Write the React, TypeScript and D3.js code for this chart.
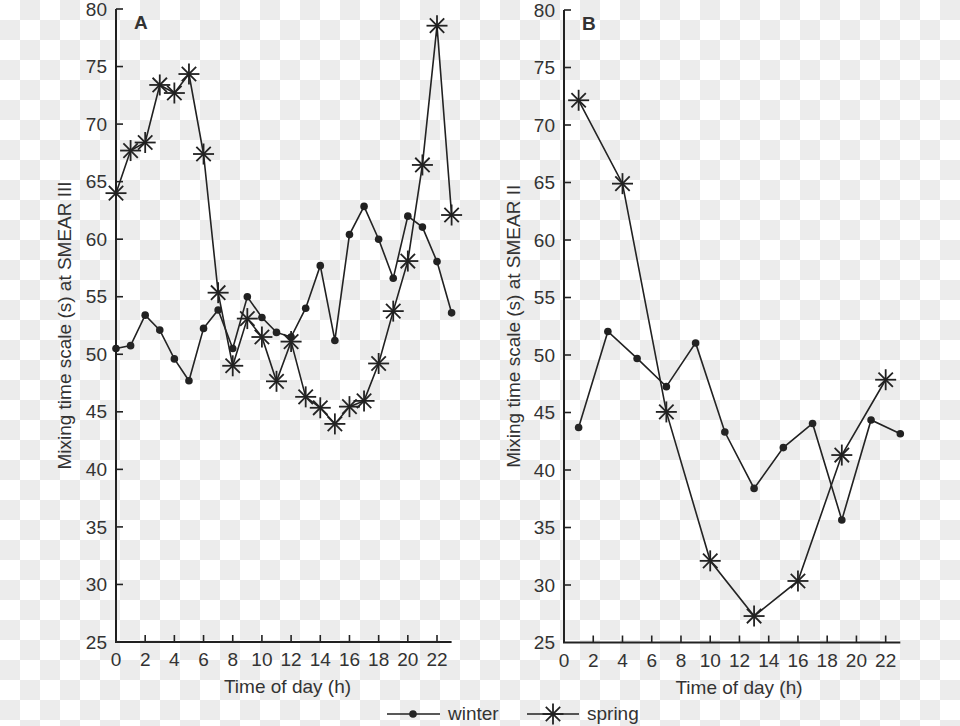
import React from "react";
import * as d3 from "d3";

const hoursA = [0, 1, 2, 3, 4, 5, 6, 7, 8, 9, 10, 11, 12, 13, 14, 15, 16, 17, 18, 19, 20, 21, 22, 23];
const winterA = [50.5, 50.75, 53.4, 52.1, 49.6, 47.7, 52.25, 53.85, 50.5, 55.0, 53.2, 51.9, 51.5, 54.0, 57.7, 51.2, 60.4, 62.85, 60.0, 56.6, 62.0, 61.05, 58.05, 53.6];
const springA = [64.0, 67.7, 68.4, 73.4, 72.7, 74.35, 67.4, 55.35, 49.0, 53.1, 51.5, 47.65, 51.1, 46.3, 45.35, 43.95, 45.45, 45.95, 49.2, 53.75, 58.1, 66.45, 78.55, 62.1];

const hoursBWinter = [1, 3, 5, 7, 9, 11, 13, 15, 17, 19, 21, 23];
const winterB = [43.7, 52.05, 49.7, 47.25, 51.05, 43.3, 38.4, 41.95, 44.05, 35.65, 44.35, 43.15];
const hoursBSpring = [1, 4, 7, 10, 13, 16, 19, 22];
const springB = [72.15, 64.9, 45.05, 32.1, 27.3, 30.35, 41.3, 47.85];

const xTicks = [0, 2, 4, 6, 8, 10, 12, 14, 16, 18, 20, 22];
const yTicks = [25, 30, 35, 40, 45, 50, 55, 60, 65, 70, 75, 80];
const seriesNames = ["winter", "spring"];

const LINE = "#222";
const TEXT = "#333";
const FONT = "'Liberation Sans', Arial, Helvetica, sans-serif";

type Pt = { h: number; v: number };

function Star({ x, y }: { x: number; y: number }) {
  const r = 10.5;
  const d = 7.2;
  return (
    <g stroke={LINE} strokeWidth={1.8} fill="none">
      <line x1={x - r} y1={y} x2={x + r} y2={y} />
      <line x1={x} y1={y - r} x2={x} y2={y + r} />
      <line x1={x - d} y1={y - d} x2={x + d} y2={y + d} />
      <line x1={x - d} y1={y + d} x2={x + d} y2={y - d} />
    </g>
  );
}

function Panel({
  x0, x1, y0, y1, letter, ylabel, xTitleX, yLabelX,
  winter, spring,
}: {
  x0: number; x1: number; y0: number; y1: number; letter: string; ylabel: string;
  xTitleX: number; yLabelX: number; winter: Pt[]; spring: Pt[];
}) {
  const x = d3.scaleLinear().domain([0, 23]).range([x0, x1]);
  const y = d3.scaleLinear().domain([25, 80]).range([y0, y1]);
  const line = d3.line<Pt>().x((d) => x(d.h)).y((d) => y(d.v));
  return (
    <g fontFamily={FONT}>
      {/* axes */}
      <line x1={x0} y1={y(80)} x2={x0} y2={y0} stroke={LINE} strokeWidth={2} />
      <line x1={x0 - 1} y1={y0} x2={x1} y2={y0} stroke={LINE} strokeWidth={2} />
      {yTicks.map((t) => (
        <g key={"y" + t}>
          {t !== 25 && <line x1={x0} x2={x0 + 7} y1={y(t)} y2={y(t)} stroke={LINE} strokeWidth={1.6} />}
          <text x={x0 - 9} y={y(t)} dy="0.35em" textAnchor="end" fontSize={19} fill={TEXT}>{t}</text>
        </g>
      ))}
      {xTicks.map((t) => (
        <g key={"x" + t}>
          {t !== 0 && <line x1={x(t)} x2={x(t)} y1={y0} y2={y0 - 7} stroke={LINE} strokeWidth={1.6} />}
          <text x={x(t)} y={y0 + 24} textAnchor="middle" fontSize={19} fill={TEXT}>{t}</text>
        </g>
      ))}
      <text x={xTitleX} y={y0 + 51} textAnchor="middle" fontSize={19} fill={TEXT}>Time of day (h)</text>
      <text transform={`translate(${yLabelX},${(y0 + y1) / 2}) rotate(-90)`} textAnchor="middle" fontSize={19} fill={TEXT}>{ylabel}</text>
      <text x={x0 + 18} y={y1 + 20} fontSize={19} fontWeight="bold" fill={TEXT}>{letter}</text>
      {/* series */}
      <path d={line(winter) || ""} fill="none" stroke={LINE} strokeWidth={1.6} />
      <path d={line(spring) || ""} fill="none" stroke={LINE} strokeWidth={1.6} />
      {winter.map((d, i) => (
        <circle key={"w" + i} cx={x(d.h)} cy={y(d.v)} r={3.8} fill={LINE} />
      ))}
      {spring.map((d, i) => (
        <Star key={"s" + i} x={x(d.h)} y={y(d.v)} />
      ))}
    </g>
  );
}

export default function App() {
  const wA = hoursA.map((h, i) => ({ h, v: winterA[i] }));
  const sA = hoursA.map((h, i) => ({ h, v: springA[i] }));
  const wB = hoursBWinter.map((h, i) => ({ h, v: winterB[i] }));
  const sB = hoursBSpring.map((h, i) => ({ h, v: springB[i] }));
  return (
    <svg width={960} height={726} style={{ position: "absolute", left: 0, top: 0, display: "block" }}>
      <defs>
        <pattern id="checker" width={40} height={40} patternUnits="userSpaceOnUse">
          <rect width={40} height={40} fill="#ffffff" />
          <rect x={20} y={0} width={20} height={20} fill="#ececec" />
          <rect x={0} y={20} width={20} height={20} fill="#ececec" />
        </pattern>
      </defs>
      <rect width={960} height={726} fill="url(#checker)" />
      <Panel x0={116} x1={451.6} y0={642} y1={9} letter="A" ylabel="Mixing time scale (s) at SMEAR III"
        xTitleX={287.5} yLabelX={71} winter={wA} spring={sA} />
      <Panel x0={564} x1={900.3} y0={642.5} y1={10} letter="B" ylabel="Mixing time scale (s) at SMEAR II"
        xTitleX={739} yLabelX={519.5} winter={wB} spring={sB} />
      {/* legend */}
      <g fontFamily={FONT}>
        <line x1={387} x2={440} y1={714} y2={714} stroke={LINE} strokeWidth={1.6} />
        <circle cx={413} cy={714} r={3.8} fill={LINE} />
        <text x={448} y={720} fontSize={19} fill={TEXT}>{seriesNames[0]}</text>
        <line x1={527} x2={579} y1={714} y2={714} stroke={LINE} strokeWidth={1.6} />
        <Star x={553} y={714} />
        <text x={587} y={720} fontSize={19} fill={TEXT}>{seriesNames[1]}</text>
      </g>
    </svg>
  );
}
